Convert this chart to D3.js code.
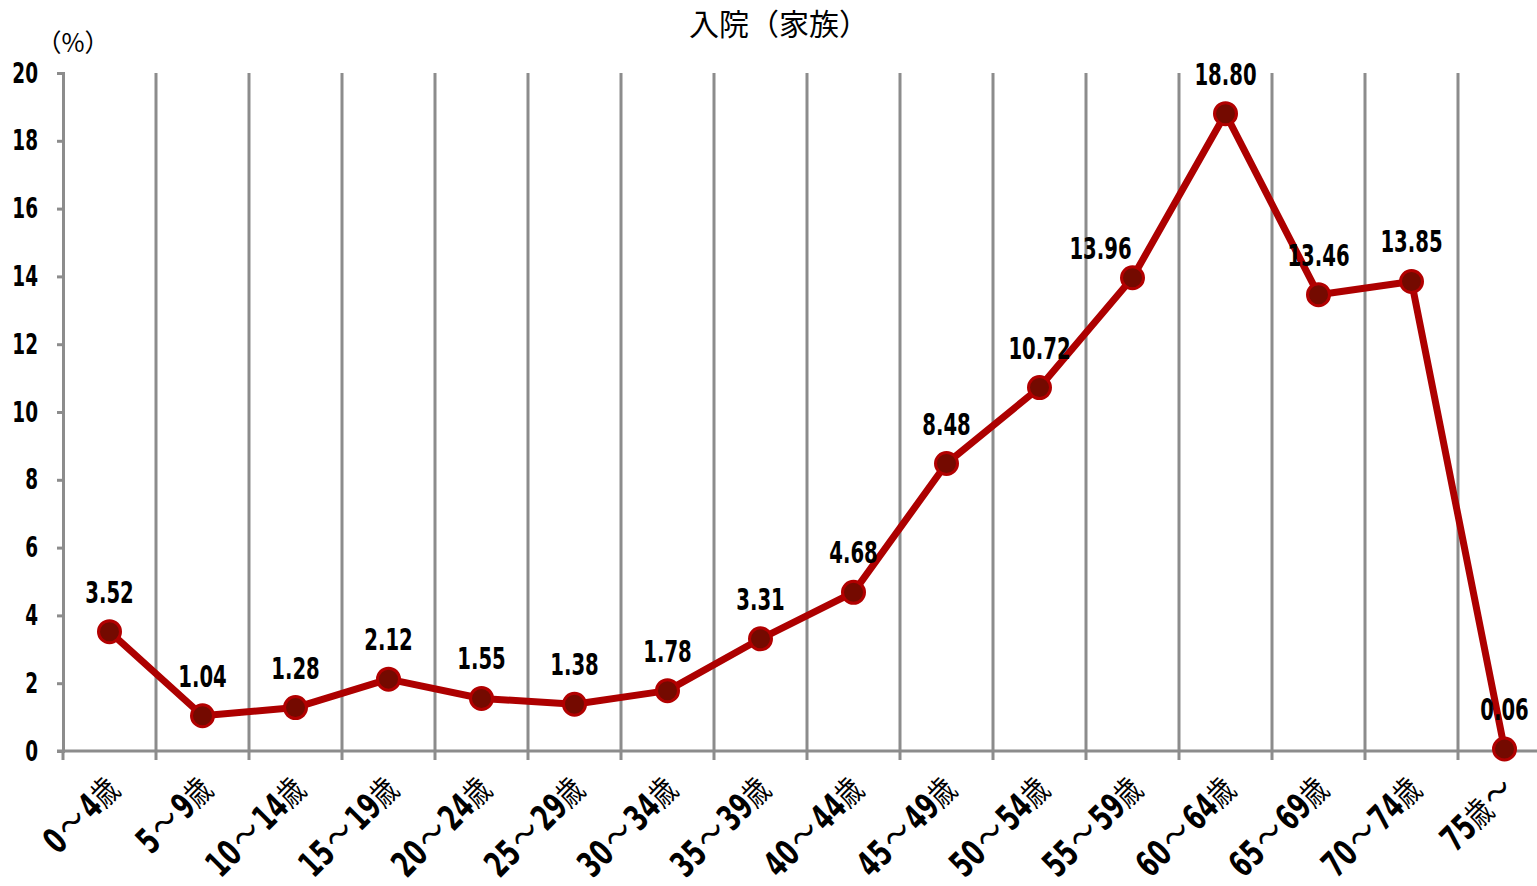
<!DOCTYPE html>
<html>
<head>
<meta charset="utf-8">
<script src="https://cdn.jsdelivr.net/npm/d3@7"></script>
<style>
  body { margin: 0; background: #fff; }
  .num { font-family: "Liberation Sans Narrow", "DejaVu Sans Condensed", "DejaVu Sans", sans-serif; font-weight: bold; }
  .jp { font-family: "Noto Sans CJK JP", sans-serif; font-weight: normal; }
</style>
</head>
<body>
<script>
// データ
var categories = ["0～4歳", "5～9歳", "10～14歳", "15～19歳", "20～24歳", "25～29歳", "30～34歳", "35～39歳",
  "40～44歳", "45～49歳", "50～54歳", "55～59歳", "60～64歳", "65～69歳", "70～74歳", "75歳～"];
var values = [3.52, 1.04, 1.28, 2.12, 1.55, 1.38, 1.78, 3.31, 4.68, 8.48, 10.72, 13.96, 18.80, 13.46, 13.85, 0.06];
var yTicks = [0, 2, 4, 6, 8, 10, 12, 14, 16, 18, 20];
var title = "入院（家族）";
var unit = "（%）";

var W = 1537, H = 886;
var svg = d3.select("body").append("svg").attr("width", W).attr("height", H);

var x = d3.scaleBand().domain(categories).range([63, 63 + 16 * 93]);
var y = d3.scaleLinear().domain([0, 20]).range([751, 73]);

// 縦グリッド
svg.append("g").selectAll("line")
  .data(categories.slice(1))
  .join("line")
  .attr("x1", d => x(d)).attr("x2", d => x(d))
  .attr("y1", y(20)).attr("y2", y(0) + 9)
  .attr("stroke", "#8c8c8c").attr("stroke-width", 3);

// y軸
var yAxis = svg.append("g").attr("transform", "translate(63,0)")
  .call(d3.axisLeft(y).tickValues(yTicks).tickSize(6));
yAxis.select(".domain").attr("stroke", "#8c8c8c").attr("stroke-width", 3);
yAxis.selectAll(".tick line").attr("stroke", "#8c8c8c").attr("stroke-width", 3);
yAxis.selectAll(".tick text")
  .attr("class", "num").attr("font-size", 25).attr("fill", "#000")
  .attr("x", null).attr("dy", null)
  .attr("transform", "translate(-25,9) scale(0.82,1.15)");

// x軸線
svg.append("line")
  .attr("x1", 57).attr("x2", W)
  .attr("y1", y(0)).attr("y2", y(0))
  .attr("stroke", "#8c8c8c").attr("stroke-width", 3);
svg.append("line")
  .attr("x1", 63).attr("x2", 63)
  .attr("y1", y(0)).attr("y2", y(0) + 9)
  .attr("stroke", "#8c8c8c").attr("stroke-width", 3);

// x軸ラベル
var cx = d => x(d) + x.bandwidth() / 2;
var xl = svg.append("g").selectAll("text")
  .data(categories)
  .join("text")
  .attr("text-anchor", "end")
  .attr("transform", d => "translate(" + (cx(d) + 12) + ",792) rotate(-45) scale(0.85,1.15)");
xl.each(function(d) {
  var t = d3.select(this);
  var parts = d.match(/[0-9]+|～|[^0-9～]+/g);
  var prevTilde = false;
  parts.forEach(p => {
    var isNum = /[0-9]/.test(p);
    var isTilde = p === "～";
    t.append("tspan")
      .attr("class", isNum ? "num" : "jp")
      .attr("font-size", isNum ? 31 : (isTilde ? 32 : 28))
      .attr("dx", isTilde ? 3 : (prevTilde ? 4 : 0))
      .text(p);
    prevTilde = isTilde;
  });
});

// 折れ線
var line = d3.line().x((d, i) => cx(categories[i])).y(d => y(d));
svg.append("path")
  .datum(values)
  .attr("d", line)
  .attr("fill", "none")
  .attr("stroke", "#ad0000")
  .attr("stroke-width", 7)
  .attr("stroke-linejoin", "round");

svg.append("g").selectAll("circle")
  .data(values)
  .join("circle")
  .attr("cx", (d, i) => cx(categories[i]))
  .attr("cy", d => y(d))
  .attr("r", 11)
  .attr("fill", "#740a00")
  .attr("stroke", "#b20000")
  .attr("stroke-width", 3);

// データラベル
svg.append("g").selectAll("text")
  .data(values)
  .join("text")
  .attr("class", "num")
  .attr("font-size", 26)
  .attr("text-anchor", "middle")
  .attr("fill", "#000")
  .attr("transform", (d, i) => {
    var lx = cx(categories[i]) + (i === 11 ? -32 : 0);
    var ly = y(d) - 29 + (i === 11 ? 10 : 0);
    return "translate(" + lx + "," + ly + ") scale(0.84,1.18)";
  })
  .text(d => d.toFixed(2));

// タイトル
svg.append("text")
  .attr("class", "jp")
  .attr("x", 779).attr("y", 35)
  .attr("text-anchor", "middle")
  .attr("font-size", 30)
  .text(title);

svg.append("text")
  .attr("class", "jp")
  .attr("x", 73).attr("y", 52)
  .attr("text-anchor", "middle")
  .attr("font-size", 25)
  .text(unit);
</script>
</body>
</html>
